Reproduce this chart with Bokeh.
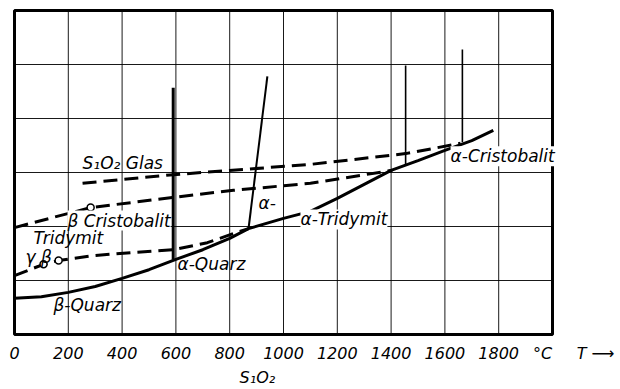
from bokeh.plotting import figure
from bokeh.models import FixedTicker, Label, Range1d, LinearAxis
from bokeh.embed import file_html
from bokeh.resources import INLINE

# ---- data (temperature in °C, quantity in grid units) ----
tick_T = [0, 200, 400, 600, 800, 1000, 1200, 1400, 1600, 1800]
tick_labels = ["0", "200", "400", "600", "800", "1000", "1200", "1400", "1600", "1800"]
unit_T, unit_label = 1963, "\u00b0C"
arrow_T, arrow_label = 2160, "T \u27f6"
formula_T, formula_label = 903, "S\u2081O\u2082"

grid_T = [200, 400, 600, 800, 1000, 1200, 1400, 1600, 1800]
grid_v = [1, 2, 3, 4, 5]
box_T = [0, 2000]
box_v = [0, 6]

curve_T = [0, 100, 200, 300, 400, 500, 600, 700, 800, 870, 1000, 1100, 1200, 1300,
           1400, 1500, 1600, 1700, 1780]
curve_v = [0.67, 0.70, 0.78, 0.89, 1.04, 1.20, 1.39, 1.57, 1.78, 1.96, 2.15, 2.28, 2.52,
           2.78, 3.04, 3.22, 3.41, 3.59, 3.78]

glas_T = [253, 591, 1100, 1454, 1658]
glas_v = [2.80, 2.96, 3.15, 3.35, 3.54]

bcrist_T = [0, 283, 591, 814, 1100, 1405]
bcrist_v = [1.98, 2.35, 2.54, 2.67, 2.80, 3.04]

trid_T = [0, 108, 164, 294, 442, 591, 717, 814, 870]
trid_v = [1.09, 1.30, 1.37, 1.46, 1.52, 1.57, 1.70, 1.87, 1.96]

point_T = [108, 164, 283]
point_v = [1.30, 1.37, 2.35]

trans_T0 = [590, 870, 1454, 1665]
trans_v0 = [1.39, 1.96, 3.15, 3.56]
trans_T1 = [590, 940, 1454, 1665]
trans_v1 = [4.57, 4.78, 4.98, 5.28]

label_text = ["S\u2081O\u2082 Glas", "\u03b1-Cristobalit", "\u03b1-", "\u03b1-Tridymit",
              "\u03b2 Cristobalit", "Tridymit", "\u03b3 \u03b2", "\u03b1-Quarz", "\u03b2-Quarz"]
label_T = [253, 1621, 907, 1063, 197, 71, 41, 606, 145]
label_v = [3.17, 3.30, 2.43, 2.13, 2.11, 1.78, 1.44, 1.30, 0.54]
label_bg = [False, True, False, True, True, False, False, False, False]

FONT = "DejaVu Sans"
PX_PER_T = 538 / 2000      # horizontal scale
PX_PER_V = 54              # vertical scale
PAD = 6                    # frame padding around the box, px
FRAME_W = 612
FRAME_H = 6 * PX_PER_V + 2 * PAD

x0 = -PAD / PX_PER_T
x1 = x0 + FRAME_W / PX_PER_T
y0 = -PAD / PX_PER_V
y1 = 6 + PAD / PX_PER_V

p = figure(frame_width=FRAME_W, frame_height=FRAME_H, output_backend="svg",
           toolbar_location=None,
           x_range=Range1d(x0, x1), y_range=Range1d(y0, y1), y_axis_location=None,
           min_border_left=8, min_border_top=4, min_border_right=0, min_border_bottom=0)
p.background_fill_color = "white"
p.border_fill_color = "white"
p.outline_line_color = None
p.xgrid.visible = False
p.ygrid.visible = False


def style_axis(ax, ticks, overrides, standoff):
    ax.ticker = FixedTicker(ticks=ticks)
    ax.major_label_overrides = overrides
    ax.axis_line_color = None
    ax.major_tick_line_color = None
    ax.minor_tick_line_color = None
    ax.major_tick_out = 0
    ax.major_tick_in = 0
    ax.minor_tick_out = 0
    ax.minor_tick_in = 0
    ax.major_label_standoff = standoff
    ax.major_label_text_font = FONT
    ax.major_label_text_font_style = "italic"
    ax.major_label_text_font_size = "16px"
    ax.major_label_text_color = "black"


ov = {t: s for t, s in zip(tick_T, tick_labels)}
ov[unit_T] = unit_label
ov[arrow_T] = arrow_label
style_axis(p.xaxis[0], tick_T + [unit_T, arrow_T], ov, 3)

ax2 = LinearAxis()
style_axis(ax2, [formula_T], {formula_T: formula_label}, 2)
p.add_layout(ax2, "below")

# grid and box
p.segment(x0=grid_T, y0=[box_v[0]] * len(grid_T), x1=grid_T, y1=[box_v[1]] * len(grid_T),
          line_color="black", line_width=1, line_alpha=0.9)
p.segment(x0=[box_T[0]] * len(grid_v), y0=grid_v, x1=[box_T[1]] * len(grid_v), y1=grid_v,
          line_color="black", line_width=1, line_alpha=0.9)
p.quad(left=[box_T[0]], right=[box_T[1]], bottom=[box_v[0]], top=[box_v[1]],
       fill_color=None, line_color="black", line_width=3)

# curves
p.line(curve_T, curve_v, line_color="black", line_width=3)
for xs, ys in ((glas_T, glas_v), (bcrist_T, bcrist_v), (trid_T, trid_v)):
    p.line(xs, ys, line_color="black", line_width=3, line_dash="14 7")

trans_width = [3, 2, 1.6, 1.6]
for a, b, c, d, w in zip(trans_T0, trans_v0, trans_T1, trans_v1, trans_width):
    p.segment(x0=[a], y0=[b], x1=[c], y1=[d], line_color="black", line_width=w)

p.scatter(point_T, point_v, size=7, fill_color="white", line_color="black", line_width=1.5)

for txt, tx, ty, bg in zip(label_text, label_T, label_v, label_bg):
    lab = Label(x=tx, y=ty, text=txt, text_font=FONT, text_font_style="italic",
                text_font_size="17px", text_baseline="middle", text_align="left",
                text_color="black")
    if bg:
        lab.background_fill_color = "white"
        lab.background_fill_alpha = 1.0
    p.add_layout(lab)

open("out.html", "w").write(file_html(p, INLINE))
